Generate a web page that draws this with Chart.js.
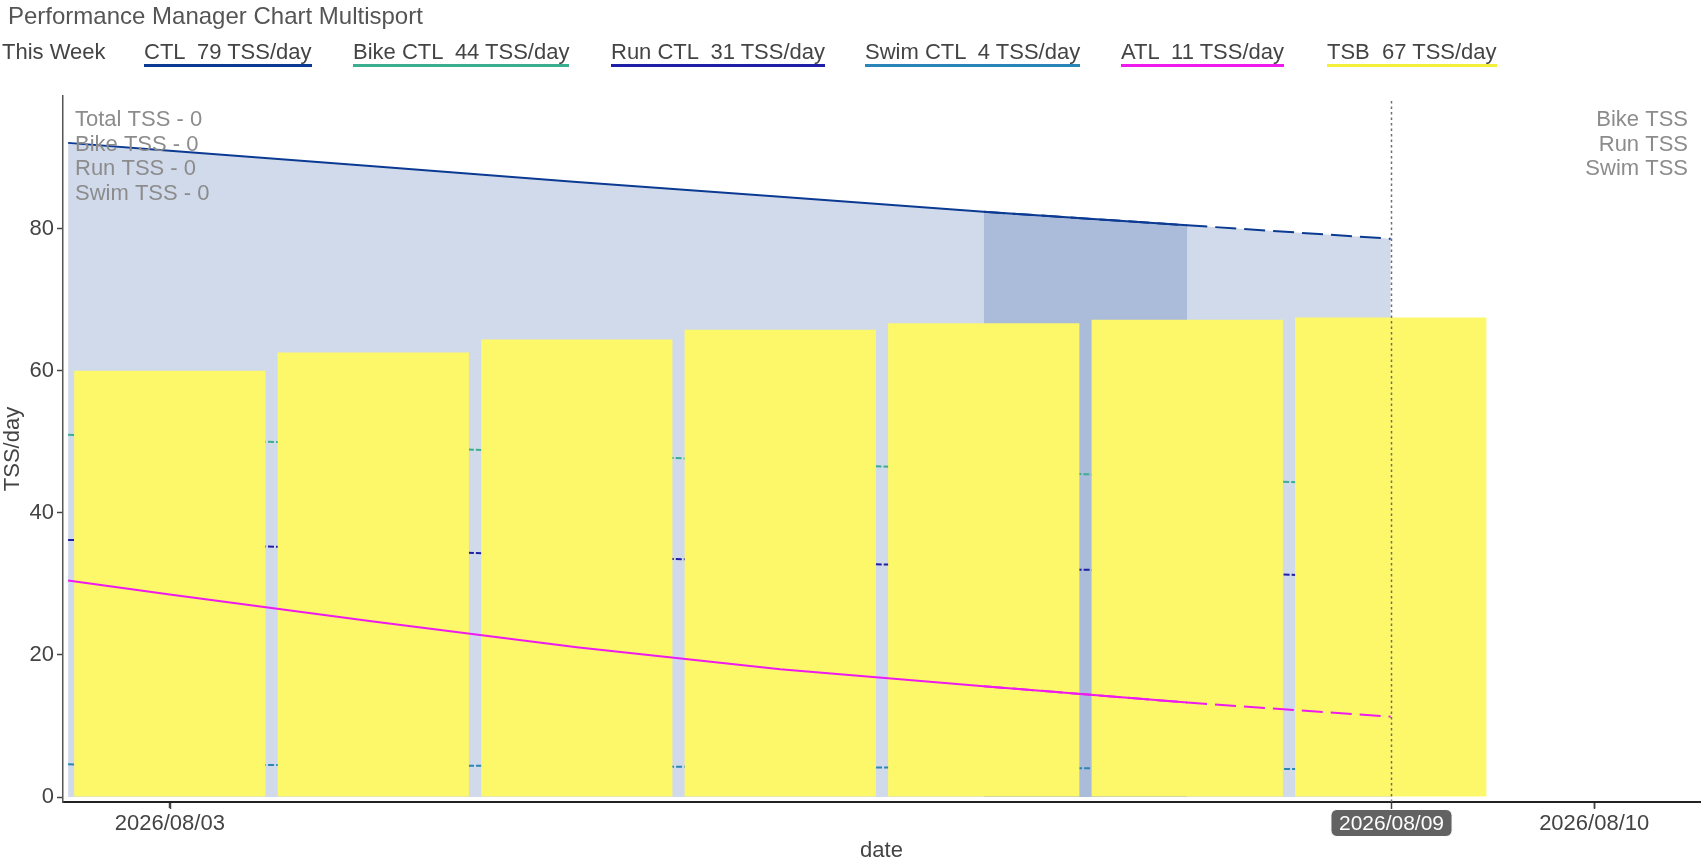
<!DOCTYPE html>
<html>
<head>
<meta charset="utf-8">
<title>Performance Manager Chart Multisport</title>
<script src="https://cdn.jsdelivr.net/npm/chart.js@4.4.1/dist/chart.umd.min.js"></script>
<style>
  body { margin: 0; background: #fff; font-family: "Liberation Sans", Arial, Helvetica, sans-serif; }
  #wrap { position: relative; width: 1701px; height: 865px; overflow: hidden; }
  #pmc { position: absolute; left: 0; top: 0; }
  .title { position: absolute; left: 8px; top: 3px; font-size: 24px; line-height: 26px; color: #555; }
  .leg { position: absolute; top: 40px; font-size: 22px; line-height: 24px; color: #444; white-space: pre; }
  .leg.item { border-bottom: 3px solid; }
</style>
</head>
<body>
<div id="wrap">
  <canvas id="pmc" width="1701" height="865"></canvas>
  <div class="title">Performance Manager Chart Multisport</div>
  <div class="leg" style="left:2px">This Week</div>
  <div id="legend"></div>
</div>
<script>
// days of August 2026 (2.5 = 08/02 noon, first sample)
const days = [2.5, 3, 4, 5, 6, 7, 8, 9];
const ctl = [92.1, 91.0, 88.8, 86.6, 84.5, 82.4, 80.5, 78.6];
const bikeCtl = [51.0, 50.5, 49.5, 48.3, 47.1, 46.0, 44.9, 43.8];
const runCtl = [36.2, 35.7, 34.8, 33.9, 33.1, 32.4, 31.6, 31.0];
const swimCtl = [4.6, 4.55, 4.45, 4.35, 4.2, 4.1, 4.0, 3.9];
const atl = [30.5, 28.5, 24.7, 21.1, 18.0, 15.6, 13.3, 11.3];

const barDays = [3, 4, 5, 6, 7, 8, 9];
const tsb = [60.0, 62.6, 64.4, 65.8, 66.7, 67.2, 67.5];

const lastActual = 8;   // solid lines end here
const projStart = 7;    // dashed projection starts here
const todayDay = 9;
const todayLabel = '2026/08/09';

const xTickValues = [3, 10];
const xTickLabels = ['2026/08/03', '2026/08/10'];
const yTickValues = [0, 20, 40, 60, 80];

const legendNames = ['CTL', 'Bike CTL', 'Run CTL', 'Swim CTL', 'ATL', 'TSB'];
const legendValues = [79, 44, 31, 4, 11, 67];
const summaryLeft = ['Total TSS - 0', 'Bike TSS - 0', 'Run TSS - 0', 'Swim TSS - 0'];
const summaryRight = ['Bike TSS', 'Run TSS', 'Swim TSS'];

// styling
const FONT = '"Liberation Sans", Arial, Helvetica, sans-serif';
const colors = {
  ctl: '#0b3a92', bike: '#3aae8e', run: '#1e1ea6', swim: '#2a86b8',
  atl: '#ee1aee', tsb: '#fdf86a'
};
const legendColors = [colors.ctl, colors.bike, colors.run, colors.swim, colors.atl, '#f4f03a'];
const legendLeft = [144, 353, 611, 865, 1121, 1327];

// legend row
const legendBox = document.getElementById('legend');
legendNames.forEach((name, i) => {
  const d = document.createElement('div');
  d.className = 'leg item';
  d.style.left = legendLeft[i] + 'px';
  d.style.borderBottomColor = legendColors[i];
  d.textContent = name + '  ' + legendValues[i] + ' TSS/day';
  legendBox.appendChild(d);
});

function pts(values, from, to) {
  const out = [];
  days.forEach((d, i) => { if (d >= from && d <= to) out.push({ x: d, y: values[i] }); });
  return out;
}

const overlay = {
  id: 'overlay',
  afterDatasetsDraw(chart) {
    const { ctx, chartArea: a, scales: { x } } = chart;
    ctx.save();
    ctx.font = '22px ' + FONT;
    ctx.fillStyle = '#8c8c8c';
    ctx.textBaseline = 'middle';
    ctx.textAlign = 'left';
    summaryLeft.forEach((t, i) => ctx.fillText(t, a.left + 12, a.top + 24 + i * 24.5));
    ctx.textAlign = 'right';
    summaryRight.forEach((t, i) => ctx.fillText(t, a.right - 12, a.top + 24 + i * 24.5));

    // hover spike line
    const px = Math.round(x.getPixelForValue(todayDay)) + 0.5;
    ctx.strokeStyle = '#6e6e6e';
    ctx.lineWidth = 1.5;
    ctx.setLineDash([2.5, 3]);
    ctx.beginPath();
    ctx.moveTo(px, a.top + 5);
    ctx.lineTo(px, a.bottom);
    ctx.stroke();
    ctx.restore();
  },
  afterDraw(chart) {
    const { ctx, chartArea: a, scales: { x } } = chart;
    const px = Math.round(x.getPixelForValue(todayDay)) + 0.5;
    ctx.save();
    ctx.strokeStyle = '#444';
    ctx.lineWidth = 1.5;
    // small tick marks under the date axis
    xTickValues.concat([todayDay]).forEach(v => {
      const tx = Math.round(x.getPixelForValue(v)) + 0.5;
      ctx.beginPath();
      ctx.moveTo(tx, a.bottom + 1);
      ctx.lineTo(tx, a.bottom + 7);
      ctx.stroke();
    });
    ctx.font = '21px ' + FONT;
    const w = ctx.measureText(todayLabel).width + 16;
    const h = 27, cy = a.bottom + 21;
    ctx.beginPath();
    ctx.roundRect(px - w / 2, cy - h / 2, w, h, 6);
    ctx.fillStyle = '#626262';
    ctx.fill();
    ctx.strokeStyle = '#fff';
    ctx.lineWidth = 1;
    ctx.stroke();
    ctx.fillStyle = '#fff';
    ctx.textAlign = 'center';
    ctx.textBaseline = 'middle';
    ctx.fillText(todayLabel, px, cy + 1);
    ctx.restore();
  }
};

const ctlFill = 'rgba(12, 60, 150, 0.19)';

new Chart(document.getElementById('pmc'), {
  type: 'line',
  data: {
    datasets: [
      { label: 'CTL', data: pts(ctl, 0, lastActual), borderColor: colors.ctl, borderWidth: 2,
        backgroundColor: ctlFill, fill: 'origin', pointRadius: 0, order: 10 },
      { label: 'CTL projection', data: pts(ctl, projStart, 99), borderColor: colors.ctl, borderWidth: 2,
        borderDash: [21, 8], backgroundColor: ctlFill, fill: 'origin', pointRadius: 0, order: 11 },
      { label: 'Bike CTL', data: pts(bikeCtl, 0, 99), borderColor: colors.bike, borderWidth: 2,
        borderDash: [6, 2], pointRadius: 0, fill: false, order: 8 },
      { label: 'Run CTL', data: pts(runCtl, 0, 99), borderColor: colors.run, borderWidth: 2,
        borderDash: [6, 2], pointRadius: 0, fill: false, order: 8 },
      { label: 'Swim CTL', data: pts(swimCtl, 0, 99), borderColor: colors.swim, borderWidth: 2,
        borderDash: [6, 2], pointRadius: 0, fill: false, order: 8 },
      { type: 'bar', label: 'TSB', data: barDays.map((d, i) => ({ x: d, y: tsb[i] })),
        backgroundColor: colors.tsb, borderWidth: 0, barPercentage: 0.94, categoryPercentage: 1, order: 5 },
      { label: 'ATL', data: pts(atl, 0, lastActual), borderColor: colors.atl, borderWidth: 2,
        pointRadius: 0, fill: false, order: 2 },
      { label: 'ATL projection', data: pts(atl, projStart, 99), borderColor: colors.atl, borderWidth: 2,
        borderDash: [21, 8], pointRadius: 0, fill: false, order: 2 }
    ]
  },
  options: {
    responsive: false,
    animation: false,
    layout: { padding: { top: 96, right: 1, left: 0, bottom: 0 } },
    plugins: { legend: { display: false }, tooltip: { enabled: false }, title: { display: false } },
    scales: {
      x: {
        type: 'linear', min: 2.475, max: 10.52, offset: false,
        afterBuildTicks: s => { s.ticks = xTickValues.map(v => ({ value: v })); },
        afterFit: s => { s.height = 63; },
        border: { color: '#222', width: 2 },
        grid: { offset: false, drawOnChartArea: false, drawTicks: true, tickLength: 6, tickColor: '#444', tickWidth: 1.5 },
        ticks: { color: '#444', font: { size: 22, family: FONT }, padding: 3, maxRotation: 0,
          callback: v => xTickLabels[xTickValues.indexOf(v)] },
        title: { display: true, text: 'date', color: '#444', font: { size: 22, family: FONT },
          padding: { top: 0, bottom: 1 } }
      },
      y: {
        min: -0.7, max: 98.7,
        afterBuildTicks: s => { s.ticks = yTickValues.map(v => ({ value: v })); },
        afterFit: s => { s.width = 63; },
        border: { color: '#555', width: 1.5 },
        grid: { offset: false, drawOnChartArea: false, drawTicks: true, tickLength: 6, tickColor: '#444', tickWidth: 1.5 },
        ticks: { color: '#444', font: { size: 22, family: FONT }, padding: 3 },
        title: { display: true, text: 'TSS/day', color: '#444', font: { size: 22, family: FONT },
          padding: { top: 0, bottom: 0 } }
      }
    }
  },
  plugins: [overlay]
});
</script>
</body>
</html>
